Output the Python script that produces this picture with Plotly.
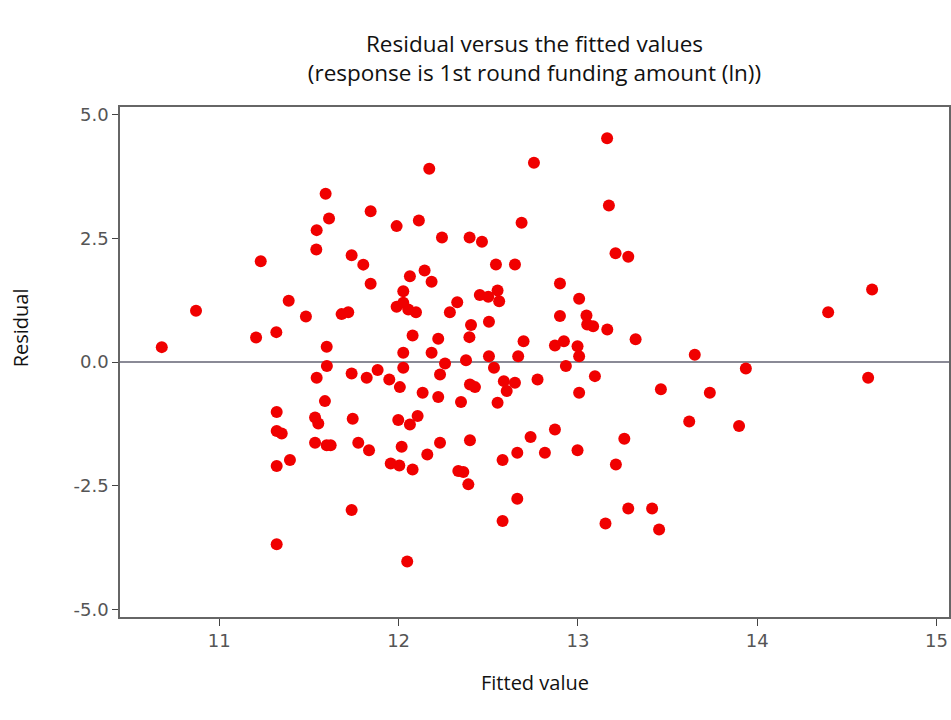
import plotly.graph_objects as go

fitted = [
    10.679, 10.870, 11.231, 11.205, 11.318, 11.387, 11.483, 11.543, 11.541, 11.593,
    11.612, 11.599, 11.600, 11.682, 11.719, 11.738, 11.803, 13.163, 12.755, 12.171,
    13.173, 11.844, 11.989, 12.113, 12.686, 12.242, 12.396, 12.465, 13.210, 13.281,
    12.543, 12.649, 11.844, 12.063, 12.145, 12.184, 12.900, 12.026, 11.989, 12.026,
    12.054, 12.097, 12.327, 12.286, 12.453, 12.500, 12.552, 12.561, 13.007, 12.900,
    13.048, 13.052, 13.085, 13.164, 13.322, 12.504, 12.404, 12.395, 12.078, 12.221,
    12.697, 12.872, 12.922, 12.998, 13.007, 12.026, 12.184, 12.376, 12.504, 12.667,
    12.259, 12.231, 11.738, 11.822, 11.883, 11.948, 12.026, 12.007, 12.134, 12.221,
    12.532, 12.398, 12.426, 12.348, 12.587, 12.649, 12.603, 12.552, 12.775, 12.933,
    13.007, 13.095, 11.744, 11.998, 12.063, 12.106, 11.775, 11.835, 12.017, 12.231,
    12.398, 12.160, 11.956, 12.004, 12.078, 12.333, 12.361, 12.389, 12.736, 12.872,
    12.662, 12.580, 12.816, 12.998, 13.259, 13.212, 12.662, 12.580, 13.154, 13.281,
    11.738, 12.048, 11.543, 11.589, 11.320, 11.534, 11.552, 11.320, 11.348, 11.534,
    11.599, 11.621, 11.320, 11.394, 11.320, 14.396, 14.641, 13.652, 13.937, 14.619,
    13.463, 13.736, 13.621, 13.899, 13.414, 13.453,
]
residual = [
    0.303, 1.038, 2.040, 0.499, 0.606, 1.240, 0.923, 2.667, 2.277, 3.400,
    2.903, 0.310, -0.080, 0.970, 1.010, 2.160, 1.970, 4.525, 4.030, 3.907,
    3.166, 3.050, 2.748, 2.863, 2.816, 2.519, 2.519, 2.432, 2.200, 2.129,
    1.974, 1.974, 1.584, 1.737, 1.853, 1.624, 1.590, 1.434, 1.119, 1.200,
    1.065, 1.010, 1.212, 1.010, 1.354, 1.320, 1.448, 1.232, 1.280, 0.930,
    0.943, 0.760, 0.727, 0.660, 0.460, 0.815, 0.748, 0.505, 0.540, 0.473,
    0.424, 0.337, 0.424, 0.323, 0.120, 0.190, 0.190, 0.040, 0.121, 0.121,
    -0.027, -0.248, -0.228, -0.316, -0.160, -0.350, -0.114, -0.505, -0.619, -0.706,
    -0.114, -0.450, -0.505, -0.808, -0.384, -0.417, -0.585, -0.820, -0.350, -0.080,
    -0.619, -0.283, -1.144, -1.170, -1.260, -1.090, -1.630, -1.780, -1.710, -1.630,
    -1.580, -1.865, -2.050, -2.090, -2.170, -2.200, -2.220, -2.470, -1.515, -1.360,
    -1.830, -1.980, -1.830, -1.780, -1.550, -2.070, -2.760, -3.210, -3.260, -2.956,
    -2.990, -4.030, -0.316, -0.788, -1.010, -1.120, -1.240, -1.390, -1.440, -1.630,
    -1.680, -1.680, -2.100, -1.980, -3.680, 1.010, 1.469, 0.150, -0.127, -0.316,
    -0.550, -0.620, -1.200, -1.290, -2.956, -3.380,
]

x_ticks = [11, 12, 13, 14, 15]
x_tick_text = ["11", "12", "13", "14", "15"]
y_ticks = [-5.0, -2.5, 0.0, 2.5, 5.0]
y_tick_text = ["-5.0", "-2.5", "0.0", "2.5", "5.0"]

title_text = "Residual versus the fitted values<br>(response is 1st round funding amount (ln))"
x_title = "Fitted value"
y_title = "Residual"

fig = go.Figure()
fig.add_trace(go.Scatter(
    x=fitted, y=residual, mode="markers",
    marker=dict(color="#f00000", size=12, line=dict(width=0)),
    showlegend=False,
))

tick_font = dict(family="DejaVu Sans", size=18, color="#555555")

W, H = 951, 720
fig.update_layout(
    width=W, height=H,
    margin=dict(l=120, r=2, t=107, b=103, autoexpand=False),
    paper_bgcolor="white", plot_bgcolor="white",
    title=dict(text=title_text, x=534.5 / W, xanchor="center", yref="container",
               y=1 - 52 / H, yanchor="top",
               font=dict(family="Open Sans", size=22.5, color="#111111")),
    xaxis=dict(range=[10.446, 15.07], tickvals=x_ticks, ticktext=x_tick_text,
               automargin=False,
               showgrid=False, zeroline=False, showline=True, linecolor="#666666",
               linewidth=1.5, mirror=True, ticks="outside", ticklen=7,
               tickcolor="#444444", tickwidth=1, tickfont=tick_font),
    yaxis=dict(range=[-5.15, 5.155], tickvals=y_ticks, ticktext=y_tick_text,
               automargin=False,
               showgrid=False, zeroline=True, zerolinecolor="#8a8a96", zerolinewidth=2,
               showline=True, linecolor="#666666", linewidth=1.5, mirror=True,
               ticks="outside", ticklen=6, tickcolor="#444444", tickwidth=1,
               tickfont=tick_font),
    annotations=[
        dict(text=x_title, xref="paper", yref="paper", x=0.5, y=-0.129,
             xanchor="center", yanchor="middle", showarrow=False,
             font=dict(family="Open Sans", size=20, color="#111111")),
        dict(text=y_title, xref="paper", yref="paper", x=-0.12, y=0.567,
             xanchor="center", yanchor="middle", textangle=-90, showarrow=False,
             font=dict(family="Open Sans", size=20, color="#111111")),
    ],
)

fig.write_html(
    "out.html",
    config={"displayModeBar": False},
    post_script="document.body.style.margin='0';document.body.style.overflow='hidden';",
)
